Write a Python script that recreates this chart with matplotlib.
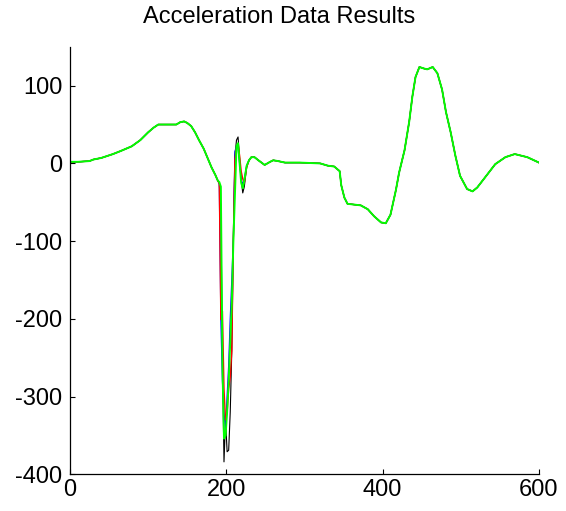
import matplotlib
matplotlib.use("Agg")
import matplotlib.pyplot as plt
import numpy as np

# Shared smooth part of the acceleration traces (before the impact spike)
x_pre = [0, 10, 25, 30, 40, 55, 65, 79, 90, 100, 107, 113, 125, 136, 141, 146,
         150, 155, 160, 165, 171, 176, 181]
y_pre = [2, 2, 3, 5, 7, 12, 16, 22, 30, 40, 46, 50, 50, 50, 53, 54,
         52, 48, 40, 30, 19, 7, -5]

# Impact spike region, one list per series
x_spike = [186, 189, 191, 193, 195, 197, 199, 201, 203, 205, 207, 209, 211,
           213, 215, 217, 219, 221, 223, 226, 229, 232]
black_spike = [-15, -22, -26, -60, -250, -384, -330, -371, -369, -320, -240, -100, 10,
               30, 34, 5, -20, -38, -30, -5, 4, 8]
blue_spike = [-15, -22, -26, -200, -280, -320, -343, -300, -260, -200, -150, -96, 15,
              22, 20, 0, -20, -28, -20, -3, 4, 8]
red_spike = [-15, -22, -26, -201, -190, -290, -330, -320, -290, -275, -240, -96, 5,
             20, 25, 10, -10, -20, -25, -5, 4, 8]
green_spike = [-15, -22, -24, -30, -260, -354, -350, -320, -280, -230, -180, -100, -40,
               22, 26, 0, -25, -32, -22, -3, 4, 8]

# Shared part after the spike
x_post = [236, 241, 249, 256, 260, 266, 275, 294, 320, 330, 338, 345, 347, 351, 355,
          372, 381, 389, 398, 404, 410, 417, 421, 428, 434, 438, 442, 447, 453, 457,
          464, 470, 476, 481, 487, 493, 499, 508, 515, 521, 531, 544, 557, 569, 585, 600]
y_post = [8, 4, -2, 2, 4, 3, 1, 1, 0, -3, -4, -10, -28, -44, -52,
          -54, -59, -68, -76, -77, -66, -34, -12, 17, 54, 86, 111, 124, 122, 121,
          124, 116, 95, 66, 40, 10, -16, -33, -36, -31, -18, -1, 8, 12, 8, 1]

title = "Acceleration Data Results"
x_ticks = [0, 200, 400, 600]
y_ticks = [-400, -300, -200, -100, 0, 100]

plt.rcParams['font.family'] = ['Liberation Sans', 'DejaVu Sans']
plt.rcParams['axes.unicode_minus'] = False

fig = plt.figure(figsize=(5.66, 5.11), dpi=100)
ax = fig.add_axes([70/566, 1 - 474.3/511, (539-70)/566, (474.3-46.8)/511])

series = [("black", black_spike, 0.8), ("blue", blue_spike, 0.9),
          ("red", red_spike, 1.0), ("#00ff00", green_spike, 1.4)]
for color, spike, lw in series:
    xs = x_pre + x_spike + x_post
    ys = y_pre + spike + y_post
    ax.plot(xs, ys, color=color, lw=lw)

ax.set_xlim(0, 600)
ax.set_ylim(-400, 150)
ax.set_xticks(x_ticks)
ax.set_yticks(y_ticks)
ax.spines['top'].set_visible(False)
ax.spines['right'].set_visible(False)
for s in ('left', 'bottom'):
    ax.spines[s].set_linewidth(0.9)
ax.tick_params(direction='in', length=3.5, width=0.8, labelsize=17)
ax.tick_params(axis='y', pad=5.5)
ax.tick_params(axis='x', pad=3.5)

fig.text(279.5/566, 1 - 17/511, title, ha='center', va='center', fontsize=17)

fig.savefig("out.png", dpi=100)
